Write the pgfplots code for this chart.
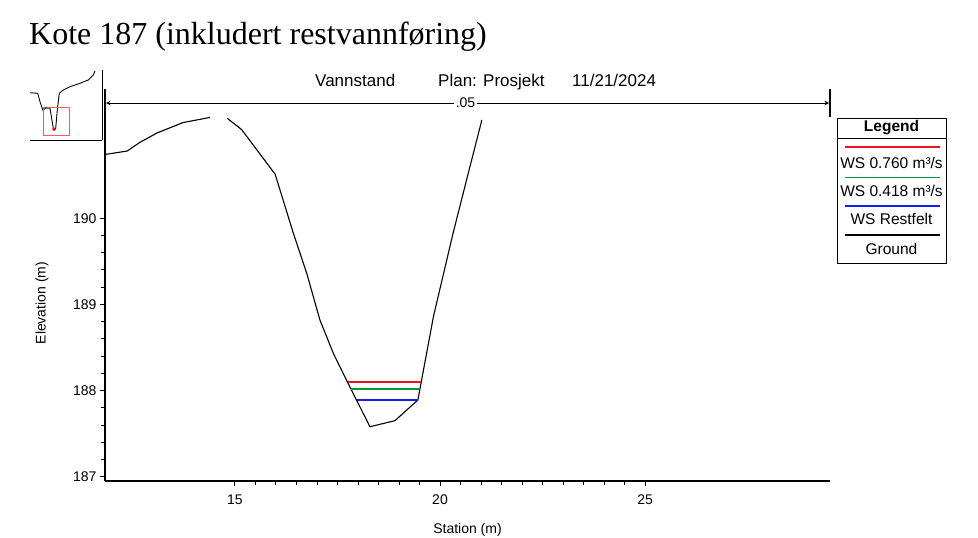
\documentclass[border=0pt]{standalone}
\usepackage{pgfplots}
\usepackage{pgfplotstable}
\pgfplotsset{compat=1.18}
\usepackage{fontspec}
\setmainfont{Liberation Sans}
\newfontfamily\titlefont{Liberation Serif}
\definecolor{wsred}{RGB}{235,20,30}
\definecolor{wsgreen}{RGB}{0,150,60}
\definecolor{wsblue}{RGB}{20,30,230}
\definecolor{boxred}{RGB}{238,95,95}

\pgfplotstableread{
x y
11.83 190.74
12.37 190.78
12.68 190.88
13.10 190.99
13.73 191.11
14.39 191.17
nan nan
14.81 191.16
15.16 191.03
15.98 190.51
16.42 189.83
16.75 189.36
17.07 188.82
17.40 188.43
17.72 188.12
18.29 187.58
18.90 187.65
19.46 187.89
19.55 188.12
19.84 188.86
20.32 189.83
20.65 190.45
21.02 191.14
}\ground

\pgfplotstableread{
x y
30 -92.7
37.7 -93.3
40 -101.7
42.7 -110
46.7 -107.7
50 -108.3
53.3 -128.3
54.3 -130
55.7 -128.3
57.3 -110
59.3 -93.3
63.3 -90
70 -86.7
80 -83.3
88.3 -80
93.3 -75
95 -71
}\insetground

\begin{document}
\begin{tikzpicture}
\useasboundingbox (0,0) rectangle (978pt,-538pt);

% main axis
\begin{axis}[
  at={(105pt,-481pt)}, anchor=south west,
  scale only axis, width=725pt, height=392pt,
  xmin=11.83, xmax=29.51, ymin=186.95, ymax=191.50,
  axis x line*=bottom, axis y line*=left,
  axis line style={line width=1.4pt, black},
  xtick={15,20,25}, ytick={187,188,189,190},
  minor x tick num=9, minor y tick num=4,
  tick align=outside,
  major tick length=5pt, minor tick length=4pt,
  every tick/.style={black, line width=1pt},
  tick label style={font=\fontsize{14}{15}\selectfont},
  xticklabel style={yshift=-5pt},
  /pgf/number format/assume math mode=true,
  /pgf/number format/set thousands separator={},
  xlabel={Station (m)}, ylabel={Elevation (m)},
  every axis x label/.style={at={(axis description cs:0.5,-0.125)}, anchor=center, font=\fontsize{14}{15}\selectfont},
  every axis y label/.style={at={(axis description cs:-0.087,0.454)}, anchor=center, rotate=90, font=\fontsize{14}{15}\selectfont},
  unbounded coords=jump,
  clip=false,
]
\addplot[black, line width=1.1pt] table[x=x,y=y] {\ground};
\addplot[wsred, line width=1.6pt] coordinates {(17.75,188.10) (19.53,188.10)};
\addplot[wsgreen, line width=1.6pt] coordinates {(17.82,188.02) (19.49,188.02)};
\addplot[wsblue, line width=1.6pt] coordinates {(17.97,187.89) (19.46,187.89)};
\end{axis}

% inset thumbnail
\begin{axis}[
  at={(30pt,-140pt)}, anchor=south west,
  scale only axis, width=72pt, height=70pt,
  xmin=30, xmax=102, ymin=-140, ymax=-70,
  axis x line*=bottom, axis y line*=right,
  axis line style={line width=1pt, black},
  ticks=none, clip=false,
]
\addplot[black, line width=0.9pt] table[x=x,y=y] {\insetground};
\addplot[boxred, line width=1pt] coordinates {(43.3,-107.7) (69.3,-107.7) (69.3,-135) (43.3,-135) (43.3,-107.7)};
\addplot[only marks, mark=*, mark size=1.5pt, red] coordinates {(53.8,-129)};
\addplot[only marks, mark=*, mark size=1pt, wsgreen] coordinates {(46.5,-108)};
\end{axis}

\begin{scope}[x=1pt,y=-1pt]
% title
\node[anchor=base west, inner sep=0pt, font=\titlefont\fontsize{32}{34}\selectfont] at (29,44) {Kote 187 (inkludert restvannføring)};
% header
\begin{scope}[every node/.style={anchor=base west, inner sep=0pt, font=\fontsize{17}{18}\selectfont}]
\node at (315,86) {Vannstand};
\node at (438,86) {Plan: Prosjekt};
\node at (572,86) {11/21/2024};
\end{scope}
% n-value arrow
\draw[line width=1pt, stealth-stealth] (106,103) -- (829,103);
\draw[line width=1.4pt] (105,89) -- (105,118);
\draw[line width=1.4pt] (830,89) -- (830,117);
\node[fill=white, inner sep=2pt, font=\fontsize{14}{15}\selectfont] at (465.5,103) {.05};
% legend
\draw[line width=1pt] (837,118) rectangle (946,263.5);
\draw[line width=0.9pt] (837,138.5) -- (946,138.5);
\begin{scope}[every node/.style={anchor=center, inner sep=0pt, font=\fontsize{15.5}{16}\selectfont}]
\node[font=\bfseries\fontsize{15.5}{16}\selectfont] at (891.5,127.5) {Legend};
\draw[wsred, line width=1.8pt] (845,147) -- (940,147);
\node at (891.5,162.5) {WS 0.760 m³/s};
\draw[wsgreen, line width=1.8pt] (845,177.5) -- (940,177.5);
\node at (891.5,191) {WS 0.418 m³/s};
\draw[wsblue, line width=1.8pt] (845,206) -- (940,206);
\node at (891.5,218.5) {WS Restfelt};
\draw[black, line width=1.8pt] (845,235) -- (940,235);
\node at (891.5,248.5) {Ground};
\end{scope}
\end{scope}
\end{tikzpicture}
\end{document}
